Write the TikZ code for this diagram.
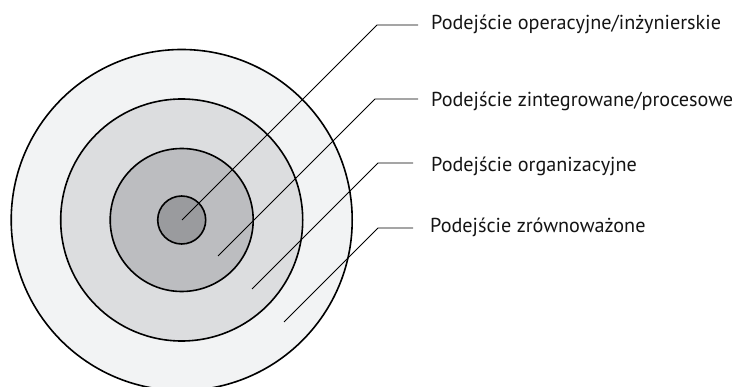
\documentclass[tikz,border=0pt]{standalone}
\usepackage{fontspec}
\setmainfont{PT Sans}
\begin{document}
\begin{tikzpicture}[x=1pt,y=-1pt,
  ring/.style={draw=black,line width=1.6pt},
  leader/.style={draw=black,line width=0.8pt},
  lbl/.style={anchor=base west,inner sep=0pt,text={rgb,255:red,20;green,20;blue,20},font=\fontsize{20.2}{22}\selectfont}]
\useasboundingbox (0,0) rectangle (738,387);
\coordinate (c) at (181.7,220);
\fill[ring,fill={rgb,255:red,242;green,243;blue,244}] (c) circle[radius=170.5];
\fill[ring,fill={rgb,255:red,220;green,221;blue,223}] (c) circle[radius=121];
\fill[ring,fill={rgb,255:red,188;green,189;blue,192}] (c) circle[radius=71.5];
\fill[ring,fill={rgb,255:red,154;green,155;blue,158}] (c) circle[radius=24];
% labels
\node[lbl] (l1) at (431,30) {Podejście operacyjne/inżynierskie};
\node[lbl] (l2) at (431,106.5) {Podejście zintegrowane/procesowe};
\node[lbl] (l3) at (431,171.5) {Podejście organizacyjne};
\node[lbl] (l4) at (430,233) {Podejście zrównoważone};
% leaders
\coordinate (s1) at (182,220); \coordinate (b1) at (377,25); \coordinate (e1) at (418,25);
\coordinate (s2) at (218,256); \coordinate (b2) at (375,99); \coordinate (e2) at (418,99);
\coordinate (s3) at (252,289); \coordinate (b3) at (378,163); \coordinate (e3) at (413,163);
\coordinate (s4) at (284,322); \coordinate (b4) at (378,228); \coordinate (e4) at (413,228);
\draw[leader] (s1) -- (b1) -- (e1);
\draw[leader] (s2) -- (b2) -- (e2);
\draw[leader] (s3) -- (b3) -- (e3);
\draw[leader] (s4) -- (b4) -- (e4);
\end{tikzpicture}
\end{document}
